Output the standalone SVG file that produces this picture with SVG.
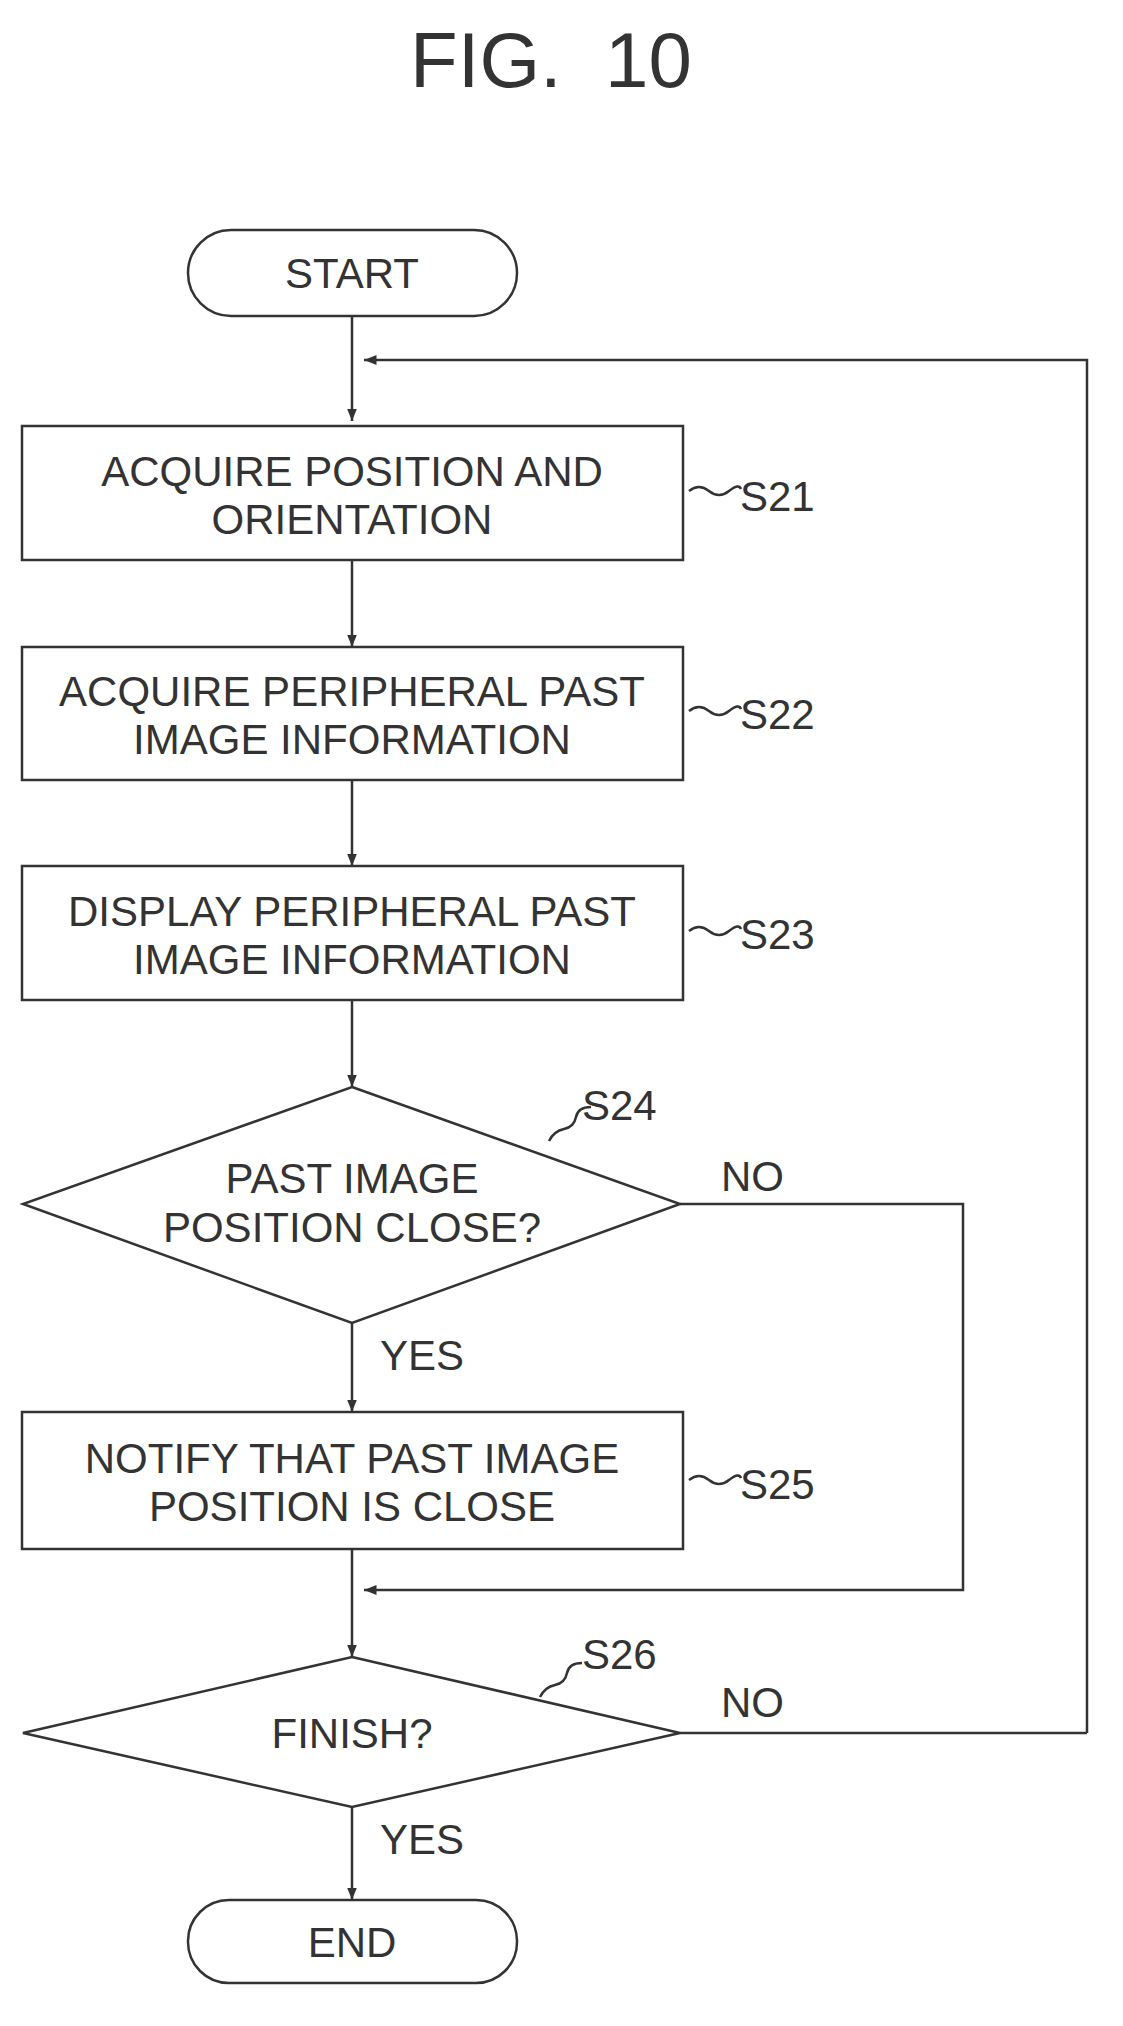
<svg xmlns="http://www.w3.org/2000/svg" width="1123" height="2026" viewBox="0 0 1123 2026">
<style>
.s{fill:#fff;stroke:#333;stroke-width:2.5}
.l{fill:none;stroke:#333;stroke-width:2.5}
text{font-family:"Liberation Sans",Arial,sans-serif;font-size:42px;fill:#333;text-anchor:middle;dominant-baseline:central}
.lb{text-anchor:start}
</style>
<defs><marker id="a" viewBox="0 0 10 10" refX="10" refY="5" markerWidth="5" markerHeight="5" orient="auto"><path d="M0,1L10,5L0,9z" fill="#333"/></marker></defs>
<rect width="1123" height="2026" fill="#fff"/>
<text x="551" y="60" style="font-size:78px" xml:space="preserve">FIG.  10</text>
<g id="connectors">
<path class="l" d="M352,313V421" marker-end="url(#a)"/>
<path class="l" d="M1087,1733V360H364" marker-end="url(#a)"/>
<path class="l" d="M352,560V647" marker-end="url(#a)"/>
<path class="l" d="M352,780V866" marker-end="url(#a)"/>
<path class="l" d="M352,1000V1087" marker-end="url(#a)"/>
<path class="l" d="M352,1323V1412" marker-end="url(#a)"/>
<path class="l" d="M352,1549V1657" marker-end="url(#a)"/>
<path class="l" d="M680,1204H963V1590H364" marker-end="url(#a)"/>
<path class="l" d="M680,1733H1087"/>
<path class="l" d="M352,1807V1900" marker-end="url(#a)"/>
<text x="721" y="1176" class="lb">NO</text>
<text x="380" y="1355" class="lb">YES</text>
<text x="721" y="1702" class="lb">NO</text>
<text x="380" y="1839" class="lb">YES</text>
</g>
<g id="start"><rect class="s" x="188" y="230" width="329" height="86" rx="43"/><text x="352" y="273">START</text></g>
<g id="s21"><rect class="s" x="22" y="426" width="661" height="134"/><text x="352" y="471">ACQUIRE POSITION AND</text><text x="352" y="519">ORIENTATION</text>
<path class="l" d="M689,491q10,-8 20,0t20,0 12,-2"/><text x="740" y="496" class="lb">S21</text></g>
<g id="s22"><rect class="s" x="22" y="647" width="661" height="133"/><text x="352" y="691">ACQUIRE PERIPHERAL PAST</text><text x="352" y="739">IMAGE INFORMATION</text>
<path class="l" d="M689,711q10,-8 20,0t20,0 12,-2"/><text x="740" y="714" class="lb">S22</text></g>
<g id="s23"><rect class="s" x="22" y="866" width="661" height="134"/><text x="352" y="911">DISPLAY PERIPHERAL PAST</text><text x="352" y="959">IMAGE INFORMATION</text>
<path class="l" d="M689,931q10,-8 20,0t20,0 12,-2"/><text x="740" y="934" class="lb">S23</text></g>
<g id="s24"><path class="s" d="M352,1087L680,1204L352,1323L23,1204Z"/><text x="352" y="1178">PAST IMAGE</text><text x="352" y="1227">POSITION CLOSE?</text>
<path class="l" d="M549,1141q5,-10 15,-12t12,-12 15,-10"/><text x="582" y="1105" class="lb">S24</text></g>
<g id="s25"><rect class="s" x="22" y="1412" width="661" height="137"/><text x="352" y="1458">NOTIFY THAT PAST IMAGE</text><text x="352" y="1506">POSITION IS CLOSE</text>
<path class="l" d="M689,1480q10,-8 20,0t20,0 12,-2"/><text x="740" y="1484" class="lb">S25</text></g>
<g id="s26"><path class="s" d="M352,1657L680,1733L352,1807L23,1733Z"/><text x="352" y="1733">FINISH?</text>
<path class="l" d="M540,1697q5,-10 15,-12t12,-12 15,-10"/><text x="582" y="1654" class="lb">S26</text></g>
<g id="end"><rect class="s" x="188" y="1900" width="329" height="83" rx="41"/><text x="352" y="1942">END</text></g>
</svg>
